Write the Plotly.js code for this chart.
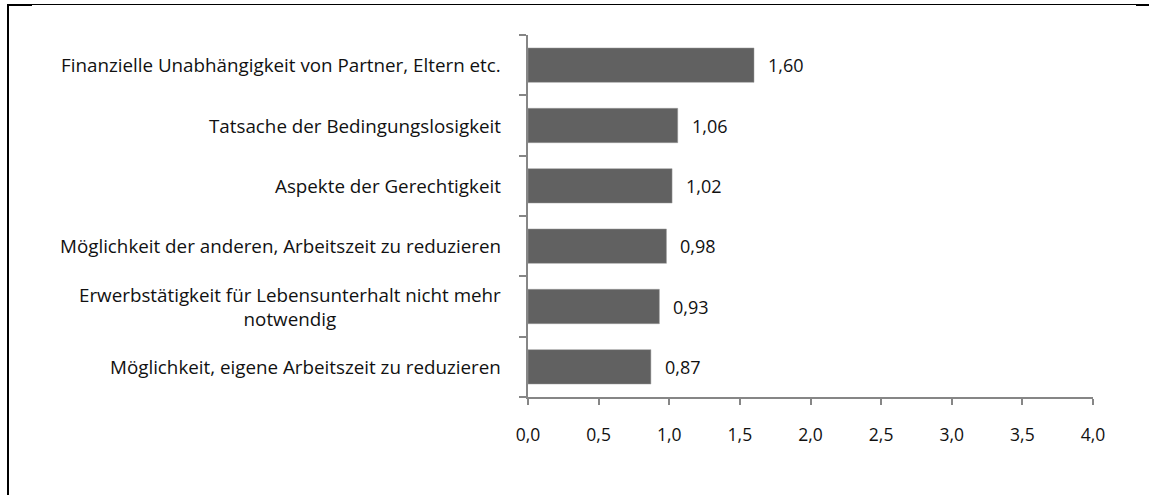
<!DOCTYPE html>
<html>
<head>
<meta charset="utf-8">
<script src="https://cdn.plot.ly/plotly-3.0.1.min.js"></script>
<style>
  html, body { margin: 0; padding: 0; background: #fff; }
  #wrap { position: relative; width: 1149px; height: 495px; overflow: hidden; }
  #chart { position: absolute; left: 0; top: 0; width: 1149px; height: 495px; }
  .ln { position: absolute; background: #000; }
</style>
</head>
<body>
<div id="wrap">
  <div id="chart"></div>
  <div class="ln" style="left:7px; top:4px; width:2px; height:491px;"></div>
  <div class="ln" style="left:7px; top:4px; width:25px; height:2px;"></div>
  <div class="ln" style="left:32px; top:4px; width:1104px; height:1px;"></div>
  <div class="ln" style="left:1136px; top:4px; width:13px; height:2px;"></div>
</div>
<script>
// Categories (top to bottom as shown)
const categories = [
  "Finanzielle Unabhängigkeit von Partner, Eltern etc.",
  "Tatsache der Bedingungslosigkeit",
  "Aspekte der Gerechtigkeit",
  "Möglichkeit der anderen, Arbeitszeit zu reduzieren",
  "Erwerbstätigkeit für Lebensunterhalt nicht mehr<br>notwendig",
  "Möglichkeit, eigene Arbeitszeit zu reduzieren"
];
const values = [1.60, 1.06, 1.02, 0.98, 0.93, 0.87];
const valueLabels = ["1,60", "1,06", "1,02", "0,98", "0,93", "0,87"];
const xTickValues = [0, 0.5, 1, 1.5, 2, 2.5, 3, 3.5, 4];
const xTickLabels = ["0,0", "0,5", "1,0", "1,5", "2,0", "2,5", "3,0", "3,5", "4,0"];

const FONT = "Open Sans, Liberation Sans, sans-serif";
const catIdx = categories.map((c, i) => i);

const trace = {
  type: "bar",
  orientation: "h",
  x: values,
  y: catIdx,
  marker: { color: "#616161", line: { color: "#9a9a9a", width: 0.5 } },
  hoverinfo: "skip",
  showlegend: false
};

const annotations = [];
categories.forEach((c, i) => {
  annotations.push({
    xref: "paper", yref: "y", x: 0, y: i,
    xanchor: "right", yanchor: "middle", xshift: -25,
    text: c, align: "center", showarrow: false,
    font: { family: FONT, size: 18.8, color: "#111" }
  });
  annotations.push({
    xref: "x", yref: "y", x: values[i], y: i,
    xanchor: "left", yanchor: "middle", xshift: 12,
    text: valueLabels[i], showarrow: false,
    font: { family: FONT, size: 18, color: "#111" }
  });
});

const layout = {
  width: 1149, height: 495,
  margin: { l: 528, r: 56, t: 35, b: 98, pad: 0 },
  paper_bgcolor: "rgba(0,0,0,0)",
  plot_bgcolor: "rgba(0,0,0,0)",
  bargap: 0.43,
  xaxis: {
    range: [0, 4],
    tickvals: xTickValues,
    ticktext: xTickLabels,
    ticks: "outside", ticklen: 6, tickwidth: 2, tickcolor: "#868686",
    showline: true, linecolor: "#868686", linewidth: 2,
    showgrid: false, zeroline: false,
    ticklabelstandoff: 15,
    tickfont: { family: FONT, size: 17.5, color: "#111" },
    fixedrange: true
  },
  yaxis: {
    range: [5.5, -0.5],
    tickvals: [-0.5, 0.5, 1.5, 2.5, 3.5, 4.5, 5.5],
    showticklabels: false,
    ticks: "outside", ticklen: 7, tickwidth: 2, tickcolor: "#868686",
    showline: true, linecolor: "#868686", linewidth: 2,
    showgrid: false, zeroline: false,
    fixedrange: true
  },
  annotations: annotations,
  font: { family: FONT }
};

Plotly.newPlot("chart", [trace], layout, { displayModeBar: false, staticPlot: true });
</script>
</body>
</html>
